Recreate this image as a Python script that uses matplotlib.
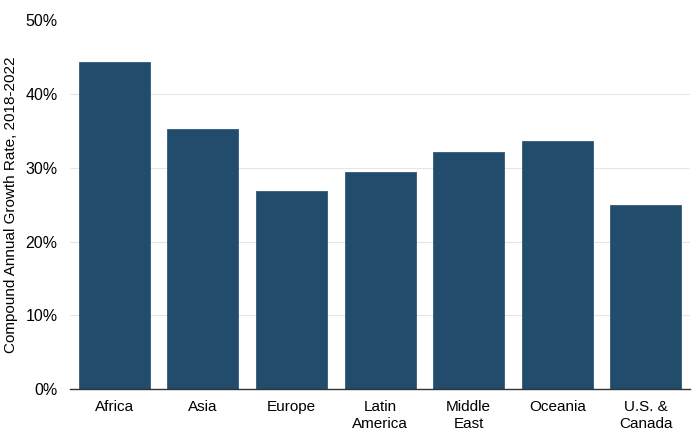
import matplotlib.pyplot as plt
from matplotlib.ticker import PercentFormatter

regions = ["Africa", "Asia", "Europe", "Latin\nAmerica", "Middle\nEast", "Oceania", "U.S. &\nCanada"]
cagr = [44.3, 35.2, 26.8, 29.4, 32.1, 33.6, 25.0]

plt.rcParams['font.family'] = ['Liberation Sans', 'DejaVu Sans']

fig = plt.figure(figsize=(7, 4.43), dpi=100)
ax = fig.add_axes([0.1, 0.122, 0.886, 0.832])

ax.bar(range(len(regions)), cagr, width=0.8, color="#214c6b",
       edgecolor="#2f5b7a", linewidth=0.6, zorder=3)

ax.set_xlim(-0.5, len(regions) - 0.5)
ax.set_ylim(0, 50)
ax.set_yticks([0, 10, 20, 30, 40, 50])
ax.yaxis.set_major_formatter(PercentFormatter(decimals=0))
ax.set_xticks(range(len(regions)))
ax.set_xticklabels(regions, fontsize=11, linespacing=1.3)
ax.tick_params(axis="y", labelsize=11.5, length=0, pad=9)
ax.tick_params(axis="x", length=0, pad=8)
ax.grid(axis="y", color="#e6e6e6", linewidth=0.8, zorder=0)
# no gridline along the top limit
ax.get_ygridlines()[-1].set_visible(False)

for s in ["top", "right", "left"]:
    ax.spines[s].set_visible(False)
ax.spines["bottom"].set_color("#333333")
ax.spines["bottom"].set_linewidth(1)
ax.spines["bottom"].set_zorder(4)

ax.set_ylabel("Compound Annual Growth Rate, 2018-2022", fontsize=11)
ax.yaxis.set_label_coords(-0.084, 0.5)

fig.savefig("out.png", dpi=100)
